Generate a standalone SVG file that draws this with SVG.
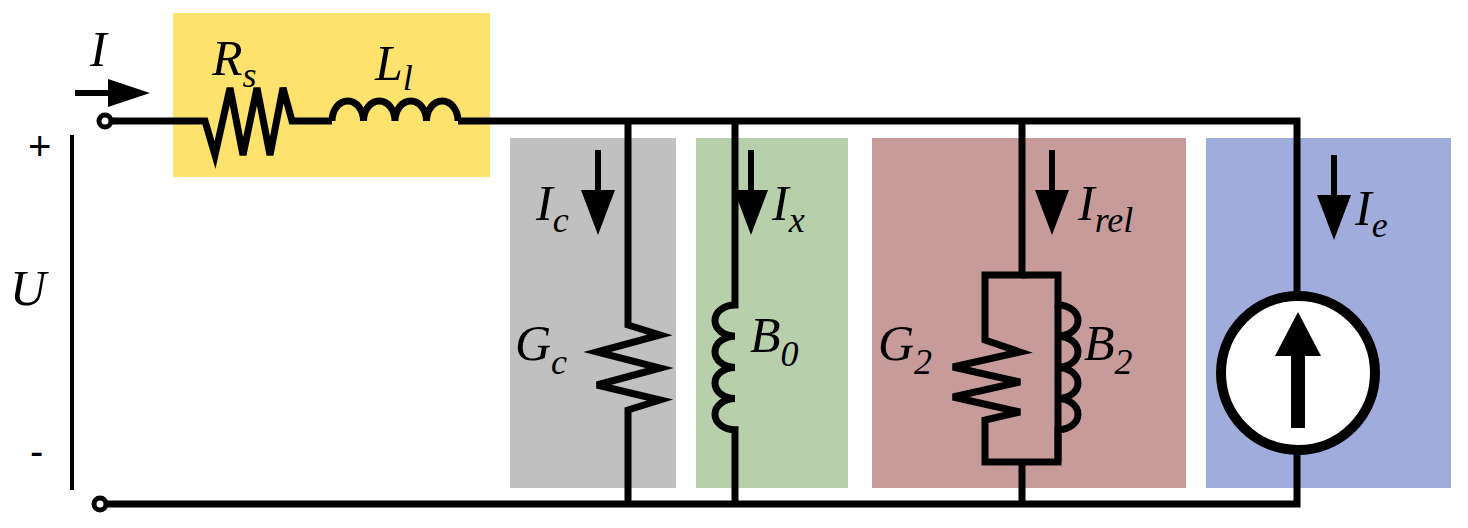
<svg xmlns="http://www.w3.org/2000/svg" width="1468" height="528" viewBox="0 0 1468 528">
<style>
.w{fill:none;stroke:#000;stroke-width:7;stroke-linejoin:miter}
.t{font-family:"Liberation Serif",serif;font-style:italic;font-size:50px;fill:#000}
.s{font-size:36px}
.a{fill:#000}
</style>
<defs>
<g id="darr"><rect x="-3" y="0" width="6" height="45" class="a"/><path d="M-17,40 L17,40 L0,85 Z" class="a"/></g>
</defs>
<rect x="0" y="0" width="1468" height="528" fill="#fff"/>
<g id="bgs">
<rect x="173" y="13" width="317" height="164" fill="#fde26e"/>
<rect x="510" y="138" width="166" height="350" fill="#c0c0c0"/>
<rect x="696" y="138" width="152" height="350" fill="#b8cfac"/>
<rect x="872" y="138" width="314" height="350" fill="#c89b9b"/>
<rect x="1206" y="138" width="245" height="350" fill="#a0acdc"/>
</g>
<g id="connectors">
<path class="w" d="M111,121 H205 L215,155 L230,88 L243,155 L257,88 L270,155 L283,88 L292,121 H332 M458,121 H1297 V296"/>
<path class="w" d="M332,121 a15.75,20 0 0 1 31.5,0 a15.75,20 0 0 1 31.5,0 a15.75,20 0 0 1 31.5,0 a15.75,20 0 0 1 31.5,0"/>
<path class="w" d="M106,504 H1297 V450"/>
<path class="w" d="M628,121 V325 L660,335 L597,352 L660,368 L597,385 L660,400 L628,410 V504"/>
<path class="w" d="M735,121 V305 a20,15.6 0 0 0 0,31.2 a20,15.6 0 0 0 0,31.2 a20,15.6 0 0 0 0,31.2 a20,15.6 0 0 0 0,31.2 V504"/>
<path class="w" d="M1022,121 V275 H985 V340 L1020,352 L953,367 L1020,382 L953,397 L1020,412 L985,420 V462 H1058 V305 M1022,462 V504"/>
<path class="w" d="M1022,275 H1058 V305 a20,15.6 0 0 1 0,31.2 a20,15.6 0 0 1 0,31.2 a20,15.6 0 0 1 0,31.2 a20,15.6 0 0 1 0,31.2 V462"/>
<line x1="72" y1="135" x2="72" y2="490" stroke="#000" stroke-width="4"/>
</g>
<g id="terminals">
<circle cx="105" cy="121" r="6" fill="#fff" stroke="#000" stroke-width="5"/>
<circle cx="100" cy="504" r="6" fill="#fff" stroke="#000" stroke-width="5"/>
</g>
<g id="arrowI"><rect x="75" y="90" width="45" height="6" class="a"/><path d="M108,79 L150,93 L108,107 Z" class="a"/></g>
<g id="source">
<circle cx="1298" cy="373" r="77" fill="#fff" stroke="#000" stroke-width="10"/>
<rect x="1291" y="350" width="14" height="78" class="a"/>
<path d="M1275,356 L1298,312 L1321,356 Z" class="a"/>
</g>
<use href="#darr" x="598" y="150"/>
<use href="#darr" x="751" y="150"/>
<use href="#darr" x="1052" y="150"/>
<use href="#darr" x="1334" y="155"/>
<g id="labels">
<text class="t" x="90" y="66">I</text>
<text class="t" x="212" y="75">R<tspan class="s" dy="12">s</tspan></text>
<text class="t" x="375" y="80">L<tspan class="s" dy="10">l</tspan></text>
<text x="28" y="160" font-family="Liberation Sans,sans-serif" font-size="40">+</text>
<text x="30" y="465" font-family="Liberation Sans,sans-serif" font-size="40">-</text>
<text class="t" x="10" y="305" font-size="58">U</text>
<text class="t" x="536" y="220">I<tspan class="s" dy="12">c</tspan></text>
<text class="t" x="772" y="220">I<tspan class="s" dy="12">x</tspan></text>
<text class="t" x="1078" y="220">I<tspan class="s" dy="12">rel</tspan></text>
<text class="t" x="1355" y="225">I<tspan class="s" dy="12">e</tspan></text>
<text class="t" x="515" y="360">G<tspan class="s" dy="14">c</tspan></text>
<text class="t" x="750" y="352">B<tspan class="s" dy="14">0</tspan></text>
<text class="t" x="878" y="360">G<tspan class="s" dy="14">2</tspan></text>
<text class="t" x="1084" y="360">B<tspan class="s" dy="14">2</tspan></text>
</g>
</svg>
